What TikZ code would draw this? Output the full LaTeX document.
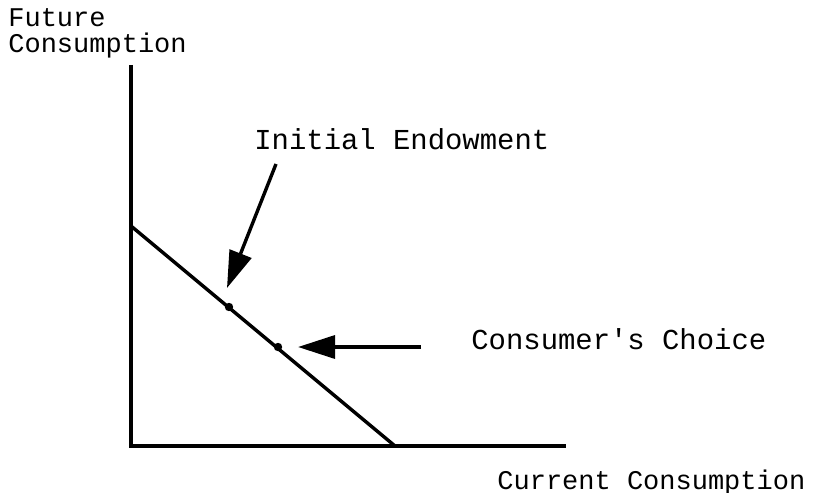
\documentclass[tikz,border=0pt]{standalone}
\usepackage{fontspec}
\setmonofont{Liberation Mono}
\usetikzlibrary{arrows.meta}

\begin{document}
\begin{tikzpicture}[x=0.5pt,y=-0.5pt,
    lbl/.style={anchor=base west,inner sep=0pt,font=\ttfamily\fontsize{13.5}{13}\selectfont},
    note/.style={lbl,font=\ttfamily\fontsize{14.45}{14}\selectfont},
    axis/.style={line width=1.7pt},
    pointer/.style={line width=1.7pt,-{Triangle[length=18.5pt,width=11.5pt]}},
    spot/.style={circle,fill,inner sep=0pt,minimum size=4.2pt}]
  \useasboundingbox (0,0) rectangle (828,492);
  % axes
  \coordinate (top) at (131,65);
  \coordinate (origin) at (131,446);
  \coordinate (right) at (566,446);
  \draw[axis] (top) -- (origin) -- (right);
  % budget line
  \coordinate (b1) at (131,226);
  \coordinate (b2) at (395,446);
  \draw[axis] (b1) -- (b2);
  \node[spot] (endow) at (229,307) {};
  \node[spot] (choice) at (278,347) {};
  % labels
  \node[lbl] (ylabel1) at (8,27) {Future};
  \node[lbl] (ylabel2) at (8,53) {Consumption};
  \node[lbl] (xlabel) at (497,489) {Current Consumption};
  \node[note] (endowlbl) at (254,149) {Initial Endowment};
  \node[note] (choicelbl) at (471,349) {Consumer's Choice};
  % pointers
  \coordinate (p1) at (276,164);
  \coordinate (p1tip) at (227,288);
  \coordinate (p2) at (421,347);
  \coordinate (p2tip) at (298,347);
  \draw[pointer] (p1) -- (p1tip);
  \draw[pointer] (p2) -- (p2tip);
\end{tikzpicture}
\end{document}
